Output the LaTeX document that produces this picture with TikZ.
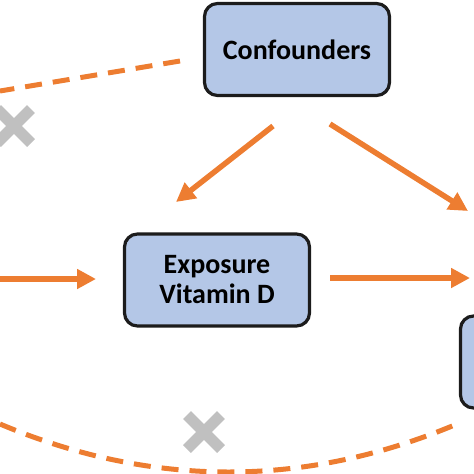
\documentclass[tikz,border=0pt]{standalone}
\usepackage{fontspec}
\setmainfont{Carlito}
\usetikzlibrary{arrows.meta,calc}
\definecolor{boxfill}{RGB}{180,199,231}
\definecolor{boxline}{RGB}{28,28,28}
\definecolor{arr}{RGB}{237,125,49}
\definecolor{xgray}{RGB}{192,192,192}
\begin{document}
\begin{tikzpicture}[x=1pt,y=-1pt,
  box/.style={draw=boxline, line width=3.2pt, fill=boxfill, rounded corners=13pt,
    inner sep=0pt, align=center, minimum width=185pt, minimum height=92pt,
    font=\fontsize{28}{30}\selectfont\bfseries},
  arrowlink/.style={draw=arr, line width=5.5pt, -{Triangle[length=19pt,width=19pt]}},
  dashlink/.style={draw=arr, line width=5pt, dash pattern=on 17pt off 11pt},
  cross/.style={draw=xgray, line width=11pt}]
\useasboundingbox (0,0) rectangle (474,474);
\clip (0,0) rectangle (474,474);
% boxes
\node[box] (conf) at (297,49.5) {Confounders};
\node[box] (expo) at (217,280) {Exposure\\Vitamin D};
\node[box] (outc) at (553,362) {};
% arrow end points
\coordinate (cfa) at (273,126);
\coordinate (cfb) at (176,202);
\coordinate (cga) at (330,124);
\coordinate (cgb) at (468,211);
\coordinate (exa) at (330,278);
\coordinate (exb) at (470,278);
\coordinate (ina) at (0,279);
\coordinate (inb) at (96,279);
% arrows
\draw[arrowlink] (cfa) -- (cfb);
\draw[arrowlink] (cga) -- (cgb);
\draw[arrowlink] (exa) -- (exb);
\draw[arrowlink] (ina) -- (inb);
% dashed links
\coordinate (ta) at (180,61);
\coordinate (tb) at (0,91);
\draw[dashlink] (ta) -- (tb);
\coordinate (ba) at (0,424);
\coordinate (bb) at (457,424);
\draw[dashlink] (ba) .. controls (152,488) and (305,488) .. (bb);
% crosses
\coordinate (x1) at (14,126);
\coordinate (x2) at (204,432);
\draw[cross] ($(x1)+(-17,-17)$) -- ($(x1)+(17,17)$);
\draw[cross] ($(x1)+(-17,17)$) -- ($(x1)+(17,-17)$);
\draw[cross] ($(x2)+(-17,-17)$) -- ($(x2)+(17,17)$);
\draw[cross] ($(x2)+(-17,17)$) -- ($(x2)+(17,-17)$);
\end{tikzpicture}
\end{document}
